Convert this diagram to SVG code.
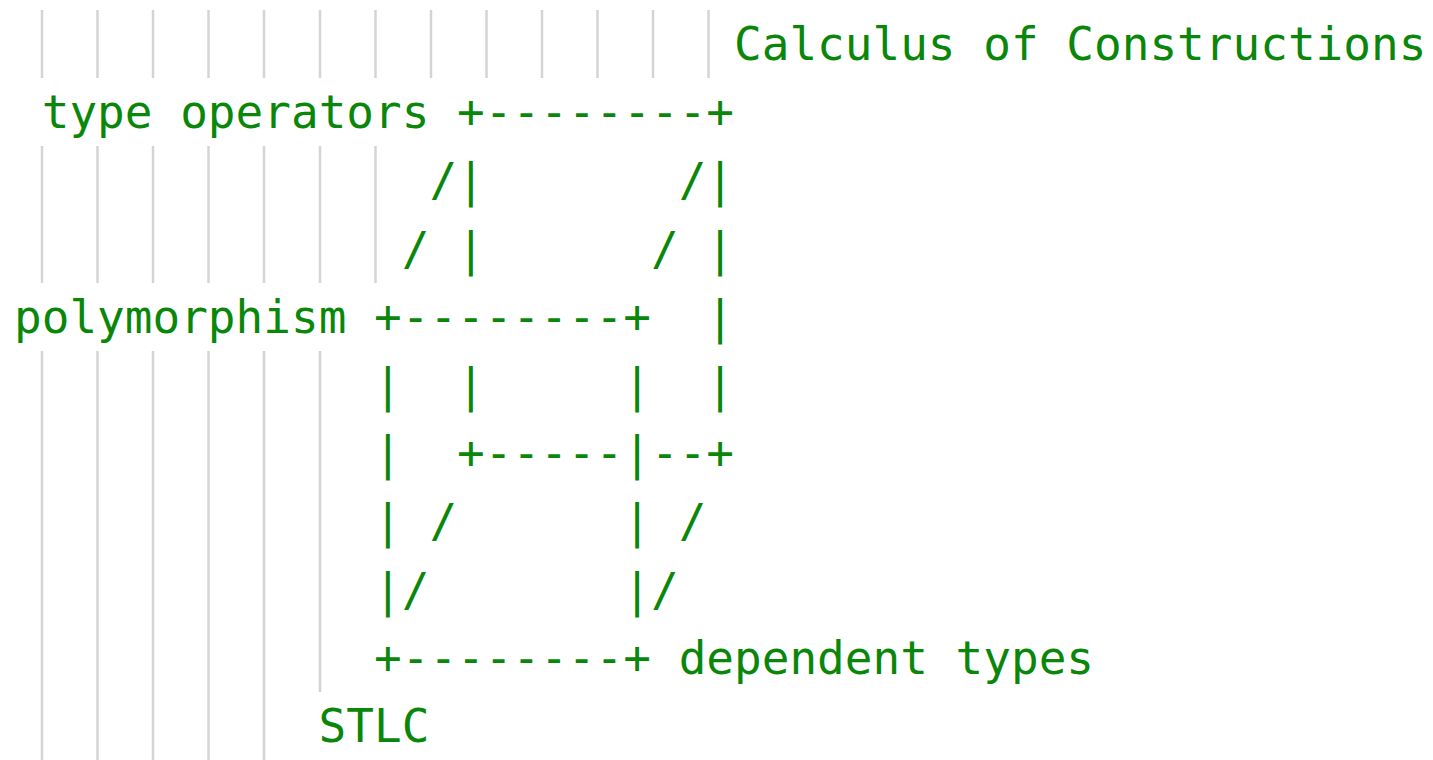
<svg xmlns="http://www.w3.org/2000/svg" width="1433" height="760" viewBox="0 0 1433 760">
<style>
.t{font-family:"DejaVu Sans Mono","Liberation Mono",monospace;font-size:46px;fill:#0a870a;white-space:pre}
.g{stroke:#d4d4d4;stroke-width:2.5}
</style>
<rect width="1433" height="760" fill="#ffffff"/>
<g id="guides" class="g">
<line x1="42" y1="10" x2="42" y2="78"/><line x1="97.5" y1="10" x2="97.5" y2="78"/><line x1="153" y1="10" x2="153" y2="78"/><line x1="208.5" y1="10" x2="208.5" y2="78"/><line x1="264" y1="10" x2="264" y2="78"/><line x1="320" y1="10" x2="320" y2="78"/><line x1="375.5" y1="10" x2="375.5" y2="78"/><line x1="431" y1="10" x2="431" y2="78"/><line x1="486.5" y1="10" x2="486.5" y2="78"/><line x1="542" y1="10" x2="542" y2="78"/><line x1="597.5" y1="10" x2="597.5" y2="78"/><line x1="653" y1="10" x2="653" y2="78"/><line x1="708.5" y1="10" x2="708.5" y2="78"/>
<line x1="42" y1="146" x2="42" y2="283"/><line x1="97.5" y1="146" x2="97.5" y2="283"/><line x1="153" y1="146" x2="153" y2="283"/><line x1="208.5" y1="146" x2="208.5" y2="283"/><line x1="264" y1="146" x2="264" y2="283"/><line x1="320" y1="146" x2="320" y2="283"/><line x1="375.5" y1="146" x2="375.5" y2="283"/>
<line x1="42" y1="351" x2="42" y2="760"/><line x1="97.5" y1="351" x2="97.5" y2="760"/><line x1="153" y1="351" x2="153" y2="760"/><line x1="208.5" y1="351" x2="208.5" y2="760"/><line x1="264" y1="351" x2="264" y2="760"/><line x1="320" y1="351" x2="320" y2="692"/>
</g>
<g id="text">
<text class="t" xml:space="preserve" x="734" y="60">Calculus of Constructions</text>
<text class="t" xml:space="preserve" x="41.7" y="128.2">type operators +--------+</text>
<text class="t" xml:space="preserve" x="429.4" y="196.4">/|       /|</text>
<text class="t" xml:space="preserve" x="401.7" y="264.6">/ |      / |</text>
<text class="t" xml:space="preserve" x="14" y="332.8">polymorphism +--------+  |</text>
<text class="t" xml:space="preserve" x="374" y="401">|  |     |  |</text>
<text class="t" xml:space="preserve" x="374" y="469.2">|  +-----|--+</text>
<text class="t" xml:space="preserve" x="374" y="537.4">| /      | /</text>
<text class="t" xml:space="preserve" x="374" y="605.6">|/       |/</text>
<text class="t" xml:space="preserve" x="374" y="673.8">+--------+ dependent types</text>
<text class="t" xml:space="preserve" x="318.6" y="742">STLC</text>
</g>
</svg>
